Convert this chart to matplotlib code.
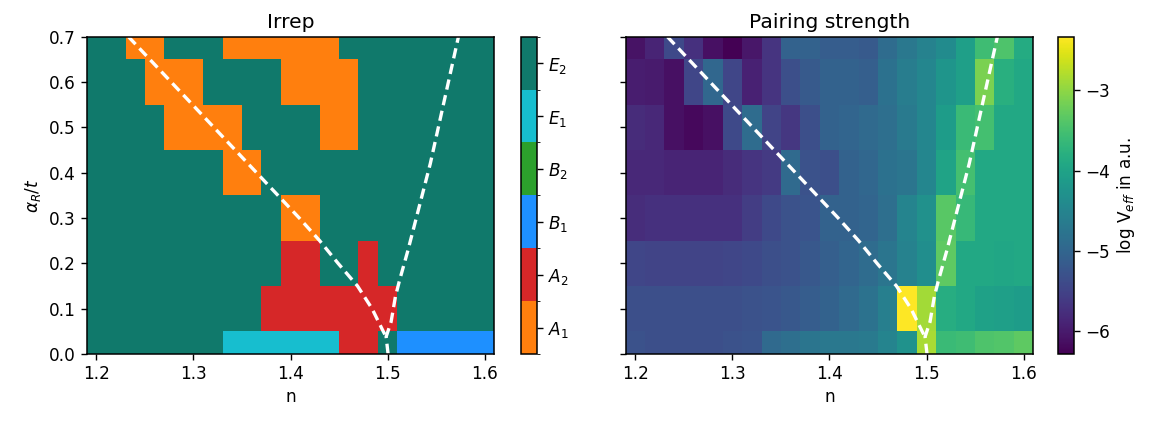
import numpy as np
import matplotlib
matplotlib.use("Agg")
import matplotlib.pyplot as plt
from matplotlib.colors import ListedColormap, BoundaryNorm

plt.rcParams['font.size'] = 12.2
plt.rcParams['axes.titlesize'] = 14.6
plt.rcParams['axes.linewidth'] = 1.1
plt.rcParams['xtick.major.size'] = 4.3
plt.rcParams['ytick.major.size'] = 4.3
plt.rcParams['xtick.major.width'] = 1.0
plt.rcParams['ytick.major.width'] = 1.0

# grid of filling n and Rashba coupling alpha_R/t
n_vals = [round(1.20 + 0.02 * i, 2) for i in range(21)]
alpha_vals = [0.0, 0.1, 0.2, 0.3, 0.4, 0.5, 0.6, 0.7]

irrep_names = [r'$A_1$', r'$A_2$', r'$B_1$', r'$B_2$', r'$E_1$', r'$E_2$']
irrep_colors = ['#ff7f0e', '#d62728', '#1e90ff', '#2ca02c', '#17becf', '#10796b']

# leading irrep index per (alpha, n), rows from alpha=0 upwards
irrep = [
    [5, 5, 5, 5, 5, 5, 5, 4, 4, 4, 4, 4, 4, 1, 1, 5, 2, 2, 2, 2, 2],
    [5, 5, 5, 5, 5, 5, 5, 5, 5, 1, 1, 1, 1, 1, 1, 1, 5, 5, 5, 5, 5],
    [5, 5, 5, 5, 5, 5, 5, 5, 5, 5, 1, 1, 5, 5, 1, 5, 5, 5, 5, 5, 5],
    [5, 5, 5, 5, 5, 5, 5, 5, 5, 5, 0, 0, 5, 5, 5, 5, 5, 5, 5, 5, 5],
    [5, 5, 5, 5, 5, 5, 5, 0, 0, 5, 5, 5, 5, 5, 5, 5, 5, 5, 5, 5, 5],
    [5, 5, 5, 5, 0, 0, 0, 0, 5, 5, 5, 5, 0, 0, 5, 5, 5, 5, 5, 5, 5],
    [5, 5, 5, 0, 0, 0, 5, 5, 5, 5, 0, 0, 0, 0, 5, 5, 5, 5, 5, 5, 5],
    [5, 5, 0, 0, 5, 5, 5, 0, 0, 0, 0, 0, 0, 5, 5, 5, 5, 5, 5, 5, 5],
]

# log of effective pairing interaction
log_veff = [
    [-5.30, -5.34, -5.34, -5.34, -5.34, -5.30, -5.26, -4.94, -4.86, -4.75, -4.71,
     -4.71, -4.67, -4.51, -4.27, -2.85, -3.60, -3.56, -3.44, -3.40, -3.32],
    [-5.34, -5.34, -5.34, -5.34, -5.34, -5.34, -5.30, -5.26, -5.22, -5.14, -5.06,
     -4.94, -4.79, -4.59, -2.33, -2.88, -3.83, -3.91, -4.03, -4.07, -4.11],
    [-5.46, -5.50, -5.50, -5.50, -5.50, -5.46, -5.42, -5.34, -5.30, -5.22, -5.10,
     -5.02, -4.90, -4.75, -4.55, -4.35, -3.32, -3.91, -3.91, -3.95, -3.91],
    [-5.78, -5.74, -5.74, -5.74, -5.74, -5.74, -5.58, -5.42, -5.30, -5.26, -5.06,
     -5.06, -5.02, -4.86, -4.51, -4.31, -3.36, -3.64, -3.91, -3.91, -3.91],
    [-5.85, -5.85, -5.89, -5.89, -5.89, -5.81, -5.70, -5.62, -4.94, -5.30, -5.34,
     -5.06, -4.98, -4.82, -4.75, -4.47, -3.99, -3.52, -3.91, -3.91, -3.91],
    [-5.81, -5.85, -6.13, -6.21, -6.13, -5.42, -4.90, -5.50, -5.66, -5.34, -5.06,
     -5.02, -4.94, -4.86, -4.67, -4.47, -4.11, -3.60, -3.52, -3.91, -3.91],
    [-5.97, -6.01, -6.13, -5.46, -4.98, -5.46, -5.93, -5.70, -5.34, -5.18, -5.06,
     -5.06, -5.10, -4.82, -4.63, -4.47, -4.23, -4.07, -3.12, -3.79, -3.91],
    [-6.09, -5.89, -5.42, -5.74, -6.13, -6.29, -6.05, -5.70, -5.06, -5.06, -5.14,
     -5.14, -5.18, -4.90, -4.71, -4.55, -4.39, -4.07, -3.56, -3.44, -3.87],
]

# Lifshitz lines
left_n = [1.233, 1.277, 1.321, 1.365, 1.409, 1.430, 1.449, 1.469, 1.484, 1.4955, 1.4985]
left_alpha = [0.7, 0.6, 0.5, 0.4, 0.3, 0.25, 0.2, 0.15, 0.1, 0.05, 0.038]
right_n = [1.5005, 1.4985, 1.5036, 1.508, 1.512, 1.521, 1.544, 1.573]
right_alpha = [0.0, 0.038, 0.071, 0.126, 0.16, 0.229, 0.42, 0.7]

fig = plt.figure(figsize=(11.58, 4.23), dpi=100)
ax1 = fig.add_axes([0.0749, 0.1631, 0.352, 0.7501])
cax1 = fig.add_axes([0.4497, 0.1631, 0.0138, 0.7501])
ax2 = fig.add_axes([0.5403, 0.1631, 0.352, 0.7501])
cax2 = fig.add_axes([0.9139, 0.1631, 0.0138, 0.7501])

# irrep map
cmap = ListedColormap(irrep_colors)
norm = BoundaryNorm(np.arange(-0.5, 6.5, 1), cmap.N)
m1 = ax1.pcolormesh(n_vals, alpha_vals, np.array(irrep), cmap=cmap, norm=norm,
                    shading='nearest', edgecolors='face', linewidth=0)
cb1 = fig.colorbar(m1, cax=cax1, ticks=range(6))
cb1.set_ticklabels(irrep_names)

# pairing strength
m2 = ax2.pcolormesh(n_vals, alpha_vals, np.array(log_veff), cmap='viridis',
                    shading='nearest', edgecolors='face', linewidth=0)
cb2 = fig.colorbar(m2, cax=cax2, ticks=[-6, -5, -4, -3])
cb2.set_label(r'log V$_{eff}$ in a.u.')

for ax in (ax1, ax2):
    ax.plot(left_n, left_alpha, color='white', lw=2.4, dashes=(3.1, 1.7))
    ax.plot(right_n, right_alpha, color='white', lw=2.4, dashes=(3.1, 1.7))
    ax.set_xlim(1.19, 1.61)
    ax.set_ylim(0, 0.7)
    ax.set_xticks([1.2, 1.3, 1.4, 1.5, 1.6])
    ax.set_yticks(np.arange(0, 0.71, 0.1))
    ax.set_xlabel('n')

ax1.set_ylabel(r'$\alpha_R/t$')
ax2.set_yticklabels([])
ax1.set_title('Irrep')
ax2.set_title('Pairing strength')

fig.savefig('out.png', dpi=100)
